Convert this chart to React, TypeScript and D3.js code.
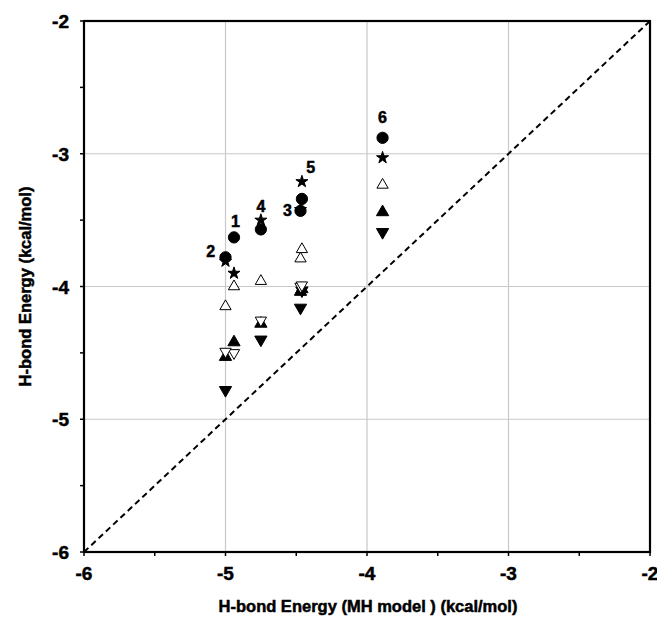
import React, { useEffect, useRef } from 'react';
import * as d3 from 'd3';

// molecules 1..6, x = MH model energy
const molecules = ['1', '2', '3', '4', '5', '6'];
const mhEnergy = [-4.94, -5.0, -4.47, -4.75, -4.46, -3.89];

// y values per marker series (null = not shown)
const circleVals = [-3.63, -3.78, -3.43, -3.57, -3.34, -2.88];
const starVals = [-3.9, -3.81, -3.42, -3.5, -3.21, -3.03];
const openUpVals = [-4.0, -4.15, -3.79, -3.96, -3.72, -3.235];
const filledUpVals = [-4.42, -4.53, -4.04, -4.28, -4.02, -3.44];
const filledDownVals = [null, -4.78, -4.16, -4.4, -4.03, -3.59];
const openDownVals = [-4.5, -4.49, -4.0, -4.255, -3.99, null];

// label anchor points (data units)
const labelX = [-4.93, -5.105, -4.563, -4.75, -4.398, -3.89];
const labelY = [-3.51, -3.73, -3.424, -3.39, -3.1, -2.72];

const axisTicks = [-6, -5, -4, -3, -2];
const minorTicks = [-5.5, -4.5, -3.5, -2.5];
const gridTicks = [-5, -4, -3];

function App() {
  const svgRef = useRef<SVGSVGElement>(null);

  useEffect(() => {
    const width = 657;
    const height = 619;
    const left = 84, right = 650, top = 21, bottom = 552;

    const svg = d3.select(svgRef.current);
    svg.selectAll('*').remove();

    const x = d3.scaleLinear().domain([-6, -2]).range([left, right]);
    const y = d3.scaleLinear().domain([-6, -2]).range([bottom, top]);

    svg.append('rect').attr('width', width).attr('height', height).attr('fill', '#fff');

    // Gridlines
    svg.append('g').selectAll('line.gx')
      .data(gridTicks).enter().append('line')
      .attr('x1', d => x(d)).attr('x2', d => x(d))
      .attr('y1', top).attr('y2', bottom)
      .attr('stroke', '#c8c8c8').attr('stroke-width', 1.2);
    svg.append('g').selectAll('line.gy')
      .data(gridTicks).enter().append('line')
      .attr('x1', left).attr('x2', right)
      .attr('y1', d => y(d)).attr('y2', d => y(d))
      .attr('stroke', '#c8c8c8').attr('stroke-width', 1.2);

    // Diagonal
    svg.append('line')
      .attr('x1', x(-6)).attr('y1', y(-6))
      .attr('x2', x(-2)).attr('y2', y(-2))
      .attr('stroke', '#000').attr('stroke-width', 2)
      .attr('stroke-dasharray', '6,4');

    // Frame
    svg.append('rect')
      .attr('x', left).attr('y', top)
      .attr('width', right - left).attr('height', bottom - top)
      .attr('fill', 'none').attr('stroke', '#000').attr('stroke-width', 2.2);

    // Ticks
    const ticksAll = axisTicks.concat(minorTicks);
    svg.append('g').selectAll('line.tx')
      .data(ticksAll).enter().append('line')
      .attr('x1', d => x(d)).attr('x2', d => x(d))
      .attr('y1', bottom).attr('y2', bottom + 4)
      .attr('stroke', '#000').attr('stroke-width', 1.5);
    svg.append('g').selectAll('line.ty')
      .data(ticksAll).enter().append('line')
      .attr('x1', left - 4).attr('x2', left)
      .attr('y1', d => y(d)).attr('y2', d => y(d))
      .attr('stroke', '#000').attr('stroke-width', 1.5);

    const font = '"Liberation Sans", Arial, sans-serif';
    const heavy = (sel: any, size: number) => sel
      .attr('font-family', font).attr('font-weight', 'bold').attr('font-size', size)
      .attr('fill', '#000').attr('stroke', '#000').attr('stroke-width', 0.5);

    // Tick labels
    heavy(svg.append('g').selectAll('text.xl')
      .data(axisTicks).enter().append('text')
      .attr('x', d => x(d)).attr('y', 580)
      .attr('text-anchor', 'middle'), 19)
      .text(d => d);
    heavy(svg.append('g').selectAll('text.yl')
      .data(axisTicks).enter().append('text')
      .attr('x', 69).attr('y', d => y(d) + 7)
      .attr('text-anchor', 'end'), 19)
      .text(d => d);

    // Axis titles
    heavy(svg.append('text')
      .attr('x', (left + right) / 2 + 1).attr('y', 612)
      .attr('text-anchor', 'middle'), 16.5)
      .text('H-bond Energy (MH model ) (kcal/mol)');
    heavy(svg.append('text')
      .attr('transform', `translate(31,${(top + bottom) / 2}) rotate(-90)`)
      .attr('text-anchor', 'middle'), 16.5)
      .text('H-bond Energy (kcal/mol)');

    // Markers (stars under circles, open-down on top)
    const series = [
      { vals: starVals, type: d3.symbolStar, size: 45, fill: '#000', rot: 0 },
      { vals: circleVals, type: d3.symbolCircle, size: 100, fill: '#000', rot: 0 },
      { vals: openUpVals, type: d3.symbolTriangle, size: 55, fill: '#fff', rot: 0 },
      { vals: filledUpVals, type: d3.symbolTriangle, size: 65, fill: '#000', rot: 0 },
      { vals: filledDownVals, type: d3.symbolTriangle, size: 65, fill: '#000', rot: 180 },
      { vals: openDownVals, type: d3.symbolTriangle, size: 55, fill: '#fff', rot: 180 },
    ];

    series.forEach(s => {
      const pts = s.vals
        .map((v, i) => ({ x: mhEnergy[i], y: v }))
        .filter(p => p.y !== null);
      svg.append('g').selectAll('path')
        .data(pts).enter().append('path')
        .attr('d', d3.symbol().type(s.type).size(s.size)())
        .attr('transform', d => `translate(${x(d.x)},${y(d.y as number)}) rotate(${s.rot})`)
        .attr('fill', s.fill)
        .attr('stroke', '#000')
        .attr('stroke-width', 1);
    });

    // Molecule labels
    heavy(svg.append('g').selectAll('text.ml')
      .data(molecules).enter().append('text')
      .attr('x', (d, i) => x(labelX[i]))
      .attr('y', (d, i) => y(labelY[i]) + 6)
      .attr('text-anchor', 'middle'), 16)
      .text(d => d);
  }, []);

  return (
    <svg ref={svgRef} width={657} height={619}
      style={{ position: 'absolute', left: 0, top: 0 }}></svg>
  );
}

export default App;
